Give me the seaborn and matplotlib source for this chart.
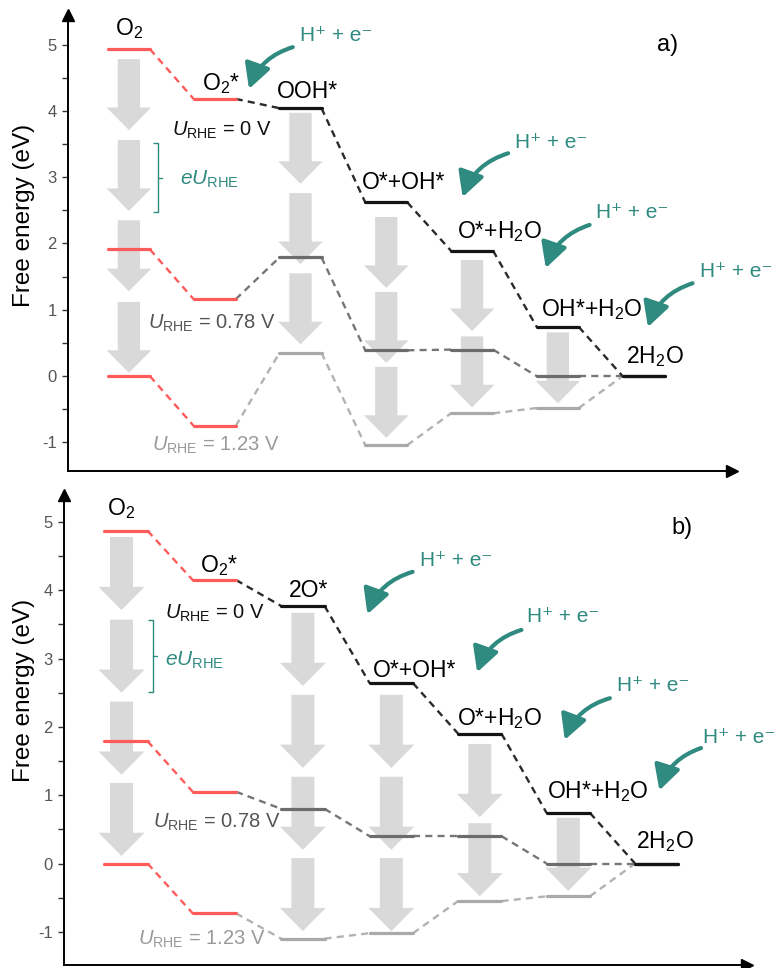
import numpy as np
import pandas as pd
import matplotlib
matplotlib.use("Agg")
import matplotlib.pyplot as plt
from matplotlib.patches import FancyArrow, FancyArrowPatch
import seaborn as sns

# ---------------------------------------------------------------- data
steps_a = ["O$_2$", "O$_2$*", "OOH*", "O*+OH*", "O*+H$_2$O", "OH*+H$_2$O", "2H$_2$O"]
steps_b = ["O$_2$", "O$_2$*", "2O*", "O*+OH*", "O*+H$_2$O", "OH*+H$_2$O", "2H$_2$O"]
potentials = ["0", "0.78", "1.23"]

# free energies (eV) of every intermediate at each electrode potential
energy_a_u0 = [4.93, 4.18, 4.04, 2.62, 1.89, 0.74, 0.00]
energy_a_u078 = [1.91, 1.16, 1.79, 0.39, 0.40, 0.00, 0.00]
energy_a_u123 = [0.00, -0.75, 0.35, -1.04, -0.56, -0.48, 0.00]

energy_b_u0 = [4.87, 4.15, 3.77, 2.64, 1.90, 0.74, 0.00]
energy_b_u078 = [1.79, 1.05, 0.80, 0.40, 0.40, 0.00, 0.00]
energy_b_u123 = [0.00, -0.73, -1.10, -1.02, -0.55, -0.48, 0.00]

# downward eU_RHE shift arrows: step index of each column and arrow tops (eV)
shift_cols_a = [0, 2, 3, 4, 5]
shift_tops_a = [[4.78, 3.56, 2.35, 1.12], [3.97, 2.76, 1.55],
                [2.40, 1.27, 0.14], [1.75, 0.60], [0.66]]
shift_cols_b = [0, 2, 3, 4, 5]
shift_tops_b = [[4.78, 3.57, 2.37, 1.18], [3.67, 2.47, 1.27, 0.08],
                [2.47, 1.27, 0.08], [1.75, 0.59], [0.67]]
eu_step = 1.07

yticks = [-1, 0, 1, 2, 3, 4, 5]

# ---------------------------------------------------------------- style
sns.set_theme(style="white")
plt.rcParams["font.family"] = ["Liberation Sans", "DejaVu Sans"]
plt.rcParams.update({
    "mathtext.fontset": "custom",
    "mathtext.rm": "Liberation Sans",
    "mathtext.it": "Liberation Sans:italic",
    "mathtext.bf": "Liberation Sans:bold",
    "mathtext.sf": "Liberation Sans",
    "axes.unicode_minus": False,
})

RED = "#ff5b5b"
TEAL = "#2f8a80"
ARROW_GRAY = "#d9d9d9"
level_colors = {"red": RED, "0": "#141414", "0.78": "#6c6c6c", "1.23": "#a9a9a9"}
link_colors = {"red": RED, "0": "#2a2a2a", "0.78": "#767676", "1.23": "#b2b2b2"}
ulabel_colors = {"0": "#111111", "0.78": "#555555", "1.23": "#9a9a9a"}
order = ["1.23", "0.78", "0", "red"]
HW = 0.245
H_TEXT = "H\u207a + e\u207b"


def profile_frames(energies):
    levels, links = [], []
    for pot, e in energies.items():
        for i, val in enumerate(e):
            grp = "red" if i < 2 else pot
            seg = f"{pot}-{i}"
            levels += [dict(x=i - HW, E=val, seg=seg, grp=grp),
                       dict(x=i + HW, E=val, seg=seg, grp=grp)]
            if i + 1 < len(e):
                grp2 = "red" if i + 1 < 2 else pot
                links += [dict(x=i + HW, E=val, seg=seg, grp=grp2),
                          dict(x=i + 1 - HW, E=e[i + 1], seg=seg, grp=grp2)]
    return pd.DataFrame(levels), pd.DataFrame(links)


def draw_panel(ax, steps, energies, shift_cols, shift_tops, spec):
    levels, links = profile_frames(energies)
    ax.set_xlim(*spec["xlim"])
    ax.set_ylim(*spec["ylim"])

    # eU_RHE shift arrows behind the profiles
    for col, tops in zip(shift_cols, shift_tops):
        for t in tops:
            ax.add_patch(FancyArrow(col + spec["col_dx"].get(col, 0), t, 0, -eu_step,
                                    width=0.26, head_width=0.52, head_length=0.34,
                                    length_includes_head=True, fc=ARROW_GRAY,
                                    ec="none", zorder=1))

    sns.lineplot(data=links, x="x", y="E", hue="grp", hue_order=order,
                 palette=link_colors, units="seg", estimator=None, sort=False,
                 legend=False, lw=1.7, linestyle=(0, (3, 2.2)), ax=ax, zorder=3)
    sns.lineplot(data=levels, x="x", y="E", hue="grp", hue_order=order,
                 palette=level_colors, units="seg", estimator=None, sort=False,
                 legend=False, lw=2.3, ax=ax, zorder=4)

    # step labels above the U = 0 V levels
    e0 = energies["0"]
    for i, (name, lx, dy) in enumerate(zip(steps, spec["label_x"], spec["label_dy"])):
        ax.text(lx, e0[i] + dy, name, fontsize=16.5, color="black",
                ha="center" if i == 0 else "left", va="baseline", zorder=6)

    # potential labels
    for pot, (tx, ty) in zip(potentials, spec["u_pos"]):
        ax.text(tx, ty, r"$U_{\mathrm{RHE}}$ = " + pot + " V", fontsize=14.5,
                color=ulabel_colors[pot], ha="left", va="baseline", zorder=6)

    # eU_RHE bracket
    bx, btop, bbot = spec["brace"]
    ax.plot([bx - 0.055, bx, bx, bx - 0.055], [btop, btop, bbot, bbot],
            color=TEAL, lw=1.0, solid_capstyle="butt", zorder=5)
    mid = (btop + bbot) / 2
    ax.plot([bx, bx + 0.045], [mid, mid], color=TEAL, lw=1.0, zorder=5)
    ax.text(spec["eu_pos"][0], spec["eu_pos"][1], r"$eU_{\mathrm{RHE}}$",
            fontsize=15, color=TEAL, ha="left", va="center", zorder=6)

    # proton-electron transfer arrows
    for (tx, ty), start, tip in spec["h_arrows"]:
        ax.text(tx, ty, H_TEXT, fontsize=15, color=TEAL,
                ha="left", va="center", zorder=6)
        ax.add_patch(FancyArrowPatch(start, tip, connectionstyle="arc3,rad=0.25",
                                     arrowstyle="-|>,head_length=0.75,head_width=0.4",
                                     mutation_scale=20, lw=3.0, color=TEAL,
                                     shrinkA=0, shrinkB=0, zorder=6))

    ax.text(spec["tag"][0], spec["tag"][1], spec["tag"][2], fontsize=17,
            ha="center", va="center", color="black")

    # axes: left and bottom only, with arrow heads
    sns.despine(ax=ax)
    for side in ("left", "bottom"):
        ax.spines[side].set_color("black")
        ax.spines[side].set_linewidth(1.4)
    ax.plot([0], [1.0], marker="^", ms=8, color="black", transform=ax.transAxes,
            clip_on=False, zorder=7)
    ax.plot([1.0], [0], marker=">", ms=8, color="black", transform=ax.transAxes,
            clip_on=False, zorder=7)
    ax.set_xticks([])
    ax.set_yticks(yticks)
    ax.set_yticks(np.arange(-0.5, 5.0, 1.0), minor=True)
    ax.set_yticklabels([str(t) for t in yticks])
    ax.tick_params(axis="y", which="both", left=True, direction="out", length=4,
                   width=1.0, color="#333333", labelsize=12, labelcolor="#555555", pad=4)
    ax.set_xlabel("")
    ax.set_ylabel("")


fig = plt.figure(figsize=(7.77, 9.68), dpi=100)
W, H = 777.0, 968.0

ax_a = fig.add_axes([68 / W, 1 - 471 / H, (732 - 68) / W, (471 - 15) / H])
ax_b = fig.add_axes([64 / W, 1 - 965 / H, (747 - 64) / W, (965 - 495) / H])

spec_a = dict(
    xlim=(-0.71, 7.03), ylim=(-1.43, 5.445),
    col_dx={},
    label_x=[0.0, 0.85, 1.72, 2.72, 3.82, 4.80, 5.80],
    label_dy=[0.21, 0.13, 0.15, 0.20, 0.19, 0.16, 0.20],
    u_pos=[(0.50, 3.62), (0.22, 0.72), (0.27, -1.12)],
    brace=(0.34, 3.52, 2.47),
    eu_pos=(0.59, 2.97),
    h_arrows=[((1.99, 5.14), (1.91, 4.96), (1.40, 4.33)),
              ((4.50, 3.53), (4.42, 3.36), (3.89, 2.70)),
              ((5.45, 2.47), (5.37, 2.28), (4.86, 1.63)),
              ((6.66, 1.58), (6.57, 1.40), (6.05, 0.74))],
    tag=(6.28, 4.99, "a)"),
)
spec_b = dict(
    xlim=(-0.70, 7.02), ylim=(-1.486, 5.395),
    col_dx={0: -0.05},
    label_x=[-0.06, 0.84, 1.84, 2.79, 3.74, 4.76, 5.76],
    label_dy=[0.23, 0.12, 0.13, 0.09, 0.13, 0.22, 0.23],
    u_pos=[(0.44, 3.59), (0.31, 0.52), (0.14, -1.19)],
    brace=(0.31, 3.56, 2.51),
    eu_pos=(0.44, 2.98),
    h_arrows=[((3.32, 4.44), (3.24, 4.27), (2.73, 3.65)),
              ((4.53, 3.61), (4.47, 3.42), (3.97, 2.80)),
              ((5.55, 2.60), (5.47, 2.42), (4.96, 1.81)),
              ((6.52, 1.85), (6.50, 1.69), (6.03, 1.07))],
    tag=(6.28, 4.91, "b)"),
)

draw_panel(ax_a, steps_a,
           {"0": energy_a_u0, "0.78": energy_a_u078, "1.23": energy_a_u123},
           shift_cols_a, shift_tops_a, spec_a)
draw_panel(ax_b, steps_b,
           {"0": energy_b_u0, "0.78": energy_b_u078, "1.23": energy_b_u123},
           shift_cols_b, shift_tops_b, spec_b)

fig.text(24 / W, 1 - 215 / H, "Free energy (eV)", rotation=90, fontsize=17.5,
         ha="center", va="center", color="black")
fig.text(24 / W, 1 - 690 / H, "Free energy (eV)", rotation=90, fontsize=17.5,
         ha="center", va="center", color="black")

fig.savefig("out.png", dpi=100)
